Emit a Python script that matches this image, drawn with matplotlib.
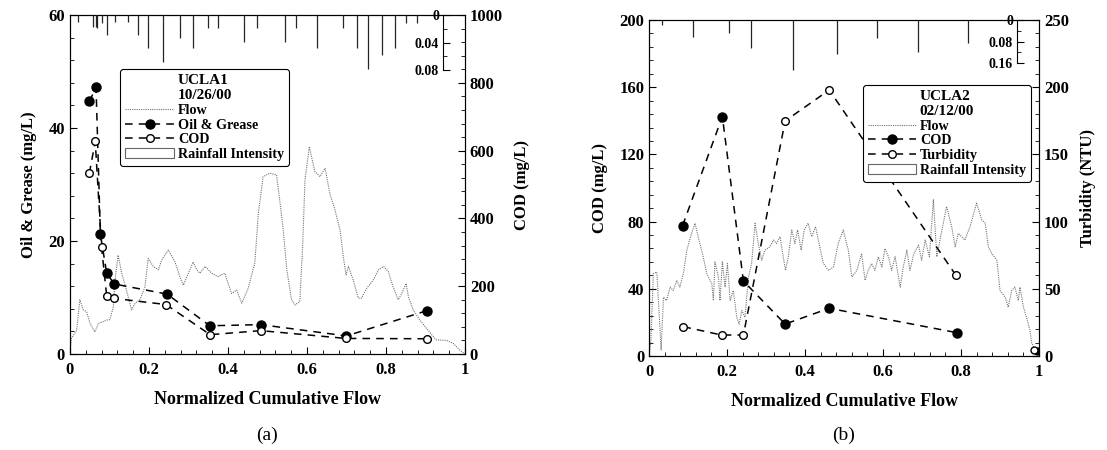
import matplotlib
matplotlib.use('Agg')
import matplotlib.pyplot as plt
from matplotlib.lines import Line2D
from matplotlib.patches import Patch
from matplotlib.ticker import MultipleLocator, FixedLocator, FixedFormatter

plt.rcParams['font.family'] = ['Liberation Serif', 'DejaVu Serif']
plt.rcParams['font.weight'] = 'bold'
plt.rcParams['axes.labelweight'] = 'bold'

# panel (a) UCLA1 10/26/00
og_x = [0.049, 0.066, 0.077, 0.093, 0.112, 0.246, 0.354, 0.483, 0.70, 0.905]
og_y = [44.7, 47.2, 21.2, 14.3, 12.4, 10.6, 5.0, 5.2, 3.2, 7.7]
coda_x = [0.049, 0.064, 0.080, 0.093, 0.112, 0.243, 0.355, 0.483, 0.698, 0.904]
coda_y = [533, 627, 315, 171, 164, 146, 57, 69, 46, 45]

flowa_x = [0, 0.004, 0.017, 0.025, 0.034, 0.042, 0.051, 0.063, 0.072, 0.093, 0.101, 0.11, 0.114,
           0.122, 0.131, 0.143, 0.156, 0.165, 0.177, 0.19, 0.198, 0.211, 0.224, 0.232, 0.249, 0.266,
           0.278, 0.287, 0.30, 0.312, 0.321, 0.329, 0.342, 0.359, 0.375, 0.392, 0.409, 0.422, 0.435,
           0.451, 0.468, 0.477, 0.489, 0.506, 0.523, 0.532, 0.54, 0.549, 0.561, 0.57, 0.582, 0.589,
           0.595, 0.606, 0.62, 0.633, 0.646, 0.658, 0.671, 0.684, 0.692, 0.699, 0.705, 0.717, 0.73,
           0.738, 0.751, 0.768, 0.781, 0.794, 0.806, 0.818, 0.831, 0.84, 0.851, 0.857, 0.869, 0.886,
           0.903, 0.916, 0.928, 0.954, 0.97, 0.987, 1.0]
flowa_y = [0.7, 2.8, 4.2, 9.6, 7.8, 7.5, 5.4, 3.9, 5.4, 6.0, 6.1, 8.4, 13.1, 17.5, 14.3, 11.3, 7.8,
           9.0, 9.6, 11.9, 16.9, 15.5, 14.9, 16.6, 18.4, 16.3, 13.7, 12.2, 14.3, 16.3, 14.9, 14.3,
           15.5, 14.3, 13.7, 14.3, 10.7, 11.3, 9.0, 11.6, 16.1, 24.9, 31.4, 32.0, 31.7, 26.7, 21.9,
           14.9, 9.6, 8.7, 9.3, 19.0, 30.8, 36.7, 32.3, 31.4, 32.9, 28.4, 25.5, 21.9, 17.2, 14.0,
           15.5, 13.1, 9.9, 9.9, 11.6, 13.1, 14.9, 15.5, 14.6, 11.9, 9.6, 10.7, 12.5, 10.1, 7.8, 6.0,
           4.5, 3.4, 2.5, 2.4, 1.9, 0.7, 0]

raina_x = [0.021, 0.059, 0.065, 0.069, 0.080, 0.095, 0.114, 0.148, 0.171, 0.198, 0.236, 0.278,
           0.312, 0.35, 0.375, 0.441, 0.473, 0.544, 0.572, 0.625, 0.692, 0.727, 0.754, 0.789,
           0.823, 0.852, 0.878]
raina_v = [0.010, 0.017, 0.017, 0.019, 0.012, 0.029, 0.010, 0.010, 0.029, 0.048, 0.068, 0.034,
           0.048, 0.019, 0.019, 0.039, 0.019, 0.039, 0.019, 0.048, 0.019, 0.048, 0.078, 0.058,
           0.048, 0.012, 0.012]

# panel (b) UCLA2 02/12/00
codb_x = [0.086, 0.188, 0.242, 0.349, 0.462, 0.789]
codb_y = [77.6, 142.5, 44.6, 19.0, 28.4, 13.9]
turb_x = [0.088, 0.186, 0.242, 0.349, 0.462, 0.787]
turb_y = [21.8, 15.6, 15.6, 174.9, 197.9, 60.0]
end_x = [0.988, 0.995]
end_cod = [3.0]
end_turb = [4.5]

flowb_x = [0.0, 0.005, 0.011, 0.02, 0.024, 0.031, 0.037, 0.045, 0.054, 0.062, 0.071, 0.079, 0.088,
           0.097, 0.109, 0.118, 0.126, 0.139, 0.148, 0.161, 0.165, 0.169, 0.178, 0.182, 0.188,
           0.195, 0.201, 0.208, 0.216, 0.225, 0.231, 0.238, 0.246, 0.255, 0.263, 0.272, 0.28,
           0.289, 0.297, 0.31, 0.319, 0.327, 0.336, 0.344, 0.35, 0.357, 0.366, 0.374, 0.381, 0.39,
           0.398, 0.408, 0.417, 0.427, 0.436, 0.447, 0.46, 0.473, 0.485, 0.498, 0.511, 0.52, 0.533,
           0.545, 0.554, 0.562, 0.571, 0.579, 0.588, 0.597, 0.605, 0.614, 0.622, 0.631, 0.644,
           0.652, 0.661, 0.669, 0.679, 0.691, 0.699, 0.708, 0.719, 0.729, 0.738, 0.746, 0.763,
           0.776, 0.785, 0.793, 0.81, 0.823, 0.84, 0.853, 0.862, 0.87, 0.879, 0.892, 0.90, 0.913,
           0.921, 0.93, 0.938, 0.947, 0.951, 0.96, 0.968, 0.977, 0.981, 0.994, 1.0]
flowb_y = [0, 9.5, 49, 50, 33, 3.6, 35, 33, 41, 39, 45, 41, 49, 63, 73, 79, 71, 59, 49, 43, 33, 56,
           47, 33, 56, 41, 55, 33, 39, 23, 19, 27, 23, 47, 55, 79, 67, 57, 63, 65, 69, 67, 71, 59,
           51, 59, 75, 67, 75, 63, 75, 79, 71, 77, 67, 55, 51, 53, 67, 75, 63, 47, 51, 61, 45, 51,
           55, 51, 59, 53, 64, 59, 51, 59, 41, 53, 63, 51, 61, 66, 57, 69, 59, 93, 59, 69, 89, 77,
           65, 73, 69, 77, 91, 81, 79, 65, 61, 57, 39, 35, 29, 39, 41, 33, 41, 29, 23, 15, 8, 2, 0.6]

rainb_x = [0.033, 0.114, 0.205, 0.261, 0.37, 0.483, 0.584, 0.689, 0.819]
rainb_v = [0.018, 0.064, 0.047, 0.105, 0.185, 0.126, 0.068, 0.117, 0.086]

xticks = [0, 0.2, 0.4, 0.6, 0.8, 1]
xticklabels = ['0', '0.2', '0.4', '0.6', '0.8', '1']

flow_style = dict(color='0.45', linestyle=(0, (1, 1)), linewidth=0.8)
dash_style = dict(color='black', linestyle=(0, (5, 4)), linewidth=1.1)
tick_kw = dict(direction='in', labelsize=12)


def setup_x(ax):
    ax.set_xlim(0, 1)
    ax.xaxis.set_major_locator(FixedLocator(xticks))
    ax.xaxis.set_major_formatter(FixedFormatter(xticklabels))
    ax.xaxis.set_minor_locator(MultipleLocator(0.04))
    ax.tick_params(axis='x', which='major', length=5, pad=6, **tick_kw)
    ax.tick_params(axis='x', which='minor', length=3, direction='in')
    ax.set_xlabel('Normalized Cumulative Flow', fontsize=13, labelpad=9)


def rain_axis(ax, ymax, spine_x, ticks, minor, labels, data_x, data_v):
    ar = ax.twinx()
    ar.set_ylim(ymax, 0)
    ar.vlines(data_x, 0, data_v, color='0.15', linewidth=0.9)
    for s in ['right', 'top', 'bottom']:
        ar.spines[s].set_visible(False)
    ar.spines['left'].set_position(('data', spine_x))
    ar.spines['left'].set_bounds(0, ticks[-1])
    ar.spines['left'].set_linewidth(0.8)
    ar.yaxis.set_ticks_position('left')
    ar.yaxis.set_major_locator(FixedLocator(ticks))
    ar.yaxis.set_major_formatter(FixedFormatter(labels))
    ar.yaxis.set_minor_locator(FixedLocator(minor))
    ar.tick_params(axis='y', which='major', direction='in', length=5, labelsize=10, pad=3)
    ar.tick_params(axis='y', which='minor', direction='in', length=3)
    return ar


def make_legend(ar, labels, title, anchor):
    handles = [Line2D([], [], **flow_style),
               Line2D([], [], marker='o', markersize=6.5, markerfacecolor='black', **dash_style),
               Line2D([], [], marker='o', markersize=5.5, markerfacecolor='white', **dash_style),
               Patch(facecolor='white', edgecolor='0.4', linewidth=0.8)]
    leg = ar.legend(handles, labels, title=title, loc='upper left', bbox_to_anchor=anchor,
                    prop={'size': 10.2, 'weight': 'bold'},
                    title_fontproperties={'size': 11, 'weight': 'bold'},
                    fancybox=True, framealpha=1, edgecolor='black', handlelength=3.4,
                    handletextpad=0.3, labelspacing=0.12, borderpad=0.35, numpoints=1)
    leg.get_frame().set_linewidth(0.8)


fig = plt.figure(figsize=(11.07, 4.5), dpi=100)

# ---- panel (a)
ax = fig.add_axes([0.0632, 0.2133, 0.3568, 0.7533])
ax.plot(flowa_x, flowa_y, **flow_style)
ax.plot(og_x, og_y, marker='o', markersize=6.5, markerfacecolor='black', **dash_style)
ax.set_ylim(0, 60)
ax.yaxis.set_major_locator(MultipleLocator(20))
ax.yaxis.set_minor_locator(MultipleLocator(4))
ax.tick_params(axis='y', which='major', length=5, **tick_kw)
ax.tick_params(axis='y', which='minor', length=3, direction='in')
ax.set_ylabel('Oil & Grease (mg/L)', fontsize=12, labelpad=8)
setup_x(ax)

ax2 = ax.twinx()
ax2.plot(coda_x, coda_y, marker='o', markersize=5.5, markerfacecolor='white', **dash_style)
ax2.set_ylim(0, 1000)
ax2.yaxis.set_major_locator(MultipleLocator(200))
ax2.yaxis.set_minor_locator(MultipleLocator(40))
ax2.tick_params(axis='y', which='major', length=5, **tick_kw)
ax2.tick_params(axis='y', which='minor', length=3, direction='in')
ax2.set_ylabel('COD (mg/L)', fontsize=12, labelpad=8)

ar = rain_axis(ax, 0.493, 0.945, [0, 0.04, 0.08], [0.02, 0.06], ['0', '0.04', '0.08'],
               raina_x, raina_v)
make_legend(ar, ['Flow', 'Oil & Grease', 'COD', 'Rainfall Intensity'], 'UCLA1\n10/26/00',
            (0.11, 0.861))

fig.text(0.0632 + 0.3568 / 2, 0.033, '(a)', ha='center', va='center', fontsize=14,
         fontweight='normal')

# ---- panel (b)
bx = fig.add_axes([0.5863, 0.2089, 0.3523, 0.7467])
bx.plot(flowb_x, flowb_y, **flow_style)
bx.plot(codb_x, codb_y, marker='o', markersize=6.5, markerfacecolor='black', **dash_style)
bx.plot(end_x[1:], end_cod, linestyle='none', marker='o', markersize=5, color='black')
bx.set_ylim(0, 200)
bx.yaxis.set_major_locator(MultipleLocator(40))
bx.yaxis.set_minor_locator(MultipleLocator(8))
bx.tick_params(axis='y', which='major', length=5, **tick_kw)
bx.tick_params(axis='y', which='minor', length=3, direction='in')
bx.set_ylabel('COD (mg/L)', fontsize=12, labelpad=8)
setup_x(bx)

bx2 = bx.twinx()
bx2.plot(turb_x, turb_y, marker='o', markersize=5.5, markerfacecolor='white', **dash_style)
bx2.plot(end_x[:1], end_turb, linestyle='none', marker='o', markersize=5,
         markerfacecolor='white', color='black')
bx2.set_ylim(0, 250)
bx2.yaxis.set_major_locator(MultipleLocator(50))
bx2.yaxis.set_minor_locator(MultipleLocator(10))
bx2.tick_params(axis='y', which='major', length=5, **tick_kw)
bx2.tick_params(axis='y', which='minor', length=3, direction='in')
bx2.set_ylabel('Turbidity (NTU)', fontsize=12, labelpad=8)

br = rain_axis(bx, 1.24, 0.944, [0, 0.08, 0.16], [0.04, 0.12], ['0', '0.08', '0.16'],
               rainb_x, rainb_v)
make_legend(br, ['Flow', 'COD', 'Turbidity', 'Rainfall Intensity'], 'UCLA2\n02/12/00',
            (0.53, 0.828))

fig.text(0.5863 + 0.3523 / 2, 0.033, '(b)', ha='center', va='center', fontsize=14,
         fontweight='normal')

fig.savefig('out.png', dpi=100)
